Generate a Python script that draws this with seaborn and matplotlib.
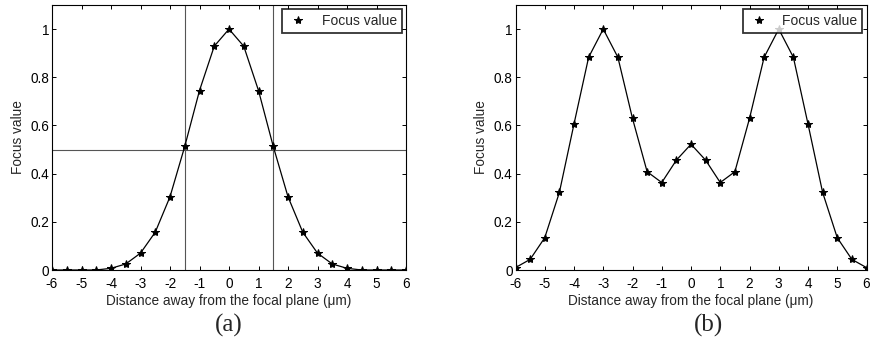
import numpy as np
import pandas as pd
import seaborn as sns
import matplotlib
matplotlib.use("Agg")
import matplotlib.pyplot as plt

distance = [-6, -5.5, -5, -4.5, -4, -3.5, -3, -2.5, -2, -1.5, -1, -0.5, 0,
            0.5, 1, 1.5, 2, 2.5, 3, 3.5, 4, 4.5, 5, 5.5, 6]
focus_a = [0, 0, 0, 0, 0.007, 0.025, 0.07, 0.157, 0.304, 0.513, 0.745, 0.929, 1.0,
           0.929, 0.745, 0.513, 0.304, 0.157, 0.07, 0.025, 0.007, 0, 0, 0, 0]
focus_b = [0.01, 0.044, 0.134, 0.322, 0.606, 0.883, 1.0, 0.883, 0.629, 0.408, 0.363, 0.456, 0.522,
           0.456, 0.363, 0.408, 0.629, 0.883, 1.0, 0.883, 0.606, 0.322, 0.134, 0.044, 0.01]
half_max_x = [-1.5, 1.5]
half_max_y = 0.5
xticks = list(range(-6, 7))
yticks = [0, 0.2, 0.4, 0.6, 0.8, 1]
ytick_labels = ["0", "0.2", "0.4", "0.6", "0.8", "1"]
panel_labels = ["(a)", "(b)"]

sns.set_style("ticks")
plt.rcParams.update({
    "font.family": ["Liberation Sans", "DejaVu Sans"],
    "xtick.direction": "in",
    "ytick.direction": "in",
    "xtick.top": True,
    "ytick.right": True,
    "axes.edgecolor": "black",
    "axes.linewidth": 0.8,
})

fig = plt.figure(figsize=(8.72, 3.47), dpi=100)
ax_a = fig.add_axes([52 / 872, 1 - 270 / 347, 354 / 872, 265 / 347])
ax_b = fig.add_axes([515.5 / 872, 1 - 270 / 347, 351 / 872, 265 / 347])

for ax, vals, lab, cx in [(ax_a, focus_a, panel_labels[0], 229), (ax_b, focus_b, panel_labels[1], 708)]:
    df = pd.DataFrame({"x": distance, "y": vals})
    sns.lineplot(data=df, x="x", y="y", ax=ax, color="black", linewidth=0.9,
                 marker="*", markersize=6, markeredgecolor="black",
                 markerfacecolor="black", label="Focus value", zorder=3)
    ax.set_xlim(-6, 6)
    ax.set_ylim(0, 1.1)
    ax.set_xticks(xticks)
    ax.set_xticklabels([str(t) for t in xticks])
    ax.set_yticks(yticks)
    ax.set_yticklabels(ytick_labels)
    ax.tick_params(labelsize=9.8, length=3, width=0.7, colors="black")
    ax.tick_params(axis="x", pad=5)
    ax.tick_params(axis="y", pad=2)
    ax.set_xlabel("Distance away from the focal plane (\u03bcm)", fontsize=9.8, labelpad=2)
    ax.set_ylabel("Focus value", fontsize=9.8, labelpad=4)
    for s in ax.spines.values():
        s.set_visible(True)
        s.set_color("black")
    leg = ax.legend(loc="upper right", fontsize=10, frameon=True, fancybox=False,
                    borderaxespad=0.3, handlelength=1.6, handletextpad=0.9,
                    borderpad=0.35)
    leg.get_frame().set_edgecolor("black")
    leg.get_frame().set_linewidth(1.3)
    for h in leg.get_lines():
        h.set_linestyle("none")
    fig.text(cx / 872, 1 - 325 / 347, lab, ha="center", va="center",
             fontsize=18, family="Liberation Serif")

for xv in half_max_x:
    ax_a.axvline(xv, color="#555555", linewidth=0.8, zorder=1)
ax_a.axhline(half_max_y, color="#555555", linewidth=0.8, zorder=1)

fig.savefig("out.png", dpi=100)
